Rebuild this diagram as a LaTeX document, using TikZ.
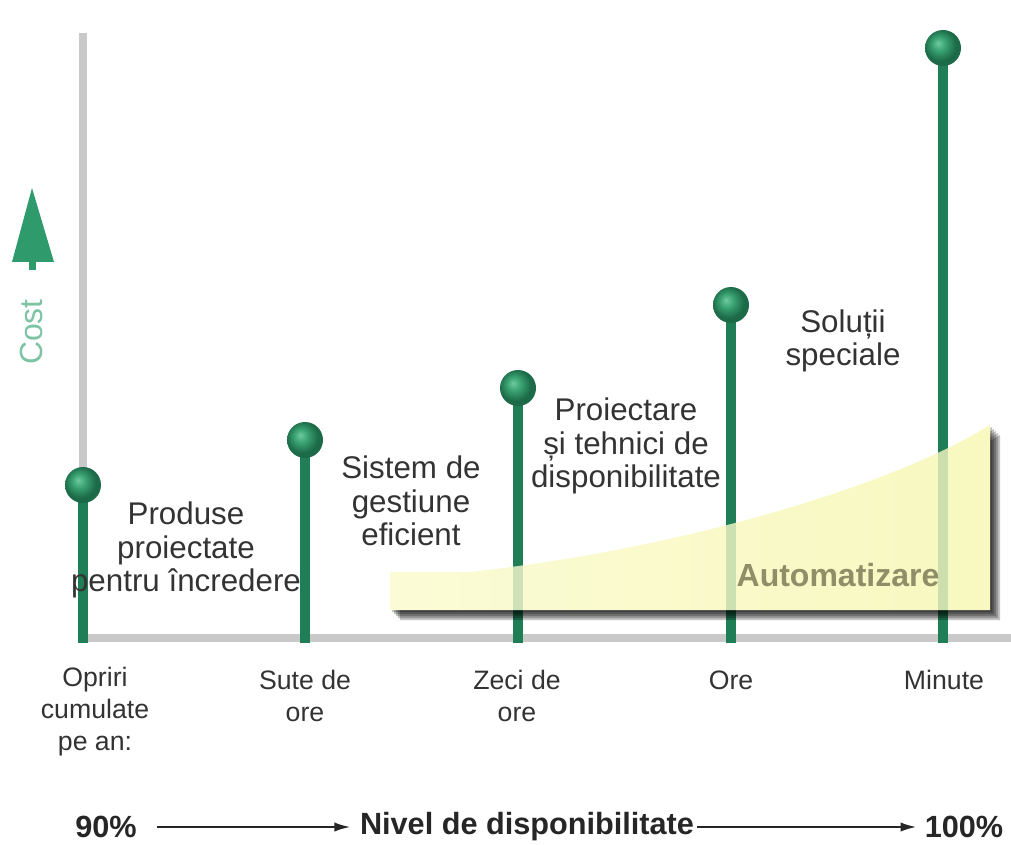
\documentclass[tikz,border=0pt]{standalone}
\usepackage{fontspec}
\setmainfont{Liberation Sans}
\usetikzlibrary{arrows.meta, positioning}

\definecolor{axisgray}{HTML}{C9C9C9}
\definecolor{stemgreen}{HTML}{207E56}
\definecolor{ballhi}{HTML}{6ECB9F}
\definecolor{ballmid}{HTML}{38A070}
\definecolor{balllo}{HTML}{1C6A47}
\definecolor{costgreen}{HTML}{7CC4A4}
\definecolor{arrowgreen}{HTML}{2F9A6B}
\definecolor{txtgray}{HTML}{333333}
\definecolor{autotxt}{HTML}{8E8E68}
\definecolor{yelL}{HTML}{FBFBD6}
\definecolor{yelR}{HTML}{F8F8C0}

\pgfdeclareradialshading{knob}{\pgfpoint{-7bp}{7bp}}{color(0bp)=(ballhi); color(10bp)=(ballmid); color(22bp)=(balllo); color(50bp)=(balllo)}
\pgfdeclarelayer{bg}
\pgfsetlayers{bg,main}

% area of the automation band
\def\autopath{(390,572) -- (470,572) .. controls (690,548) and (900,482) .. (990,425) -- (990,610) -- (390,610) -- cycle}

\begin{document}
\begin{tikzpicture}[
  x=0.75pt, y=-0.75pt,
  lbl/.style={align=center, text=txtgray, font=\fontsize{23.5}{25}\selectfont, inner sep=0pt},
  tick/.style={align=center, text=txtgray, font=\fontsize{20}{24}\selectfont, inner sep=0pt},
  stem/.style={line width=7.5pt, draw=stemgreen},
  ball/.style={circle, minimum size=27pt, inner sep=0pt, shading=knob},
  pct/.style={font=\bfseries\fontsize{23}{27}\selectfont, text=black!85, inner sep=0pt},
  arr/.style={-{Latex[length=12pt,width=7pt]}, line width=1.6pt, black!85}]
  \useasboundingbox (0,0) rectangle (1011,845);

  % knobs and their feet on the axis
  \foreach \n/\x/\y in {1/83/485, 2/305/440, 3/518/388, 4/731/305, 5/943/48} {
    \node[ball] (b\n) at (\x,\y) {};
    \coordinate (f\n) at (\x,643);
  }

  \begin{pgfonlayer}{bg}
    \draw[axisgray, line width=6.5pt] (83,33) -- (83,641);
    \draw[axisgray, line width=6pt] (80,638) -- (1011,638);
    \foreach \n in {1,...,5}
      \draw[stem] (f\n) -- (b\n.center);
    % shadow and band
    \foreach \d in {2,4,6,8,10}
      \fill[black, opacity=.24, xshift=\d*0.75pt, yshift=-\d*0.75pt] \autopath;
    \shade[left color=yelL, right color=yelR] \autopath;
    \begin{scope}
      \clip \autopath;
      \foreach \n in {1,...,5}
        \draw[stem, opacity=.2] (f\n) -- (b\n.center);
    \end{scope}
  \end{pgfonlayer}

  \node[font=\bfseries\fontsize{24}{28}\selectfont, text=autotxt] (auto) at (838,575) {Automatizare};

  % cost axis
  \fill[arrowgreen] (32,188) -- (54,262) -- (12,262) -- cycle;
  \fill[arrowgreen] (29,262) rectangle (36,270);
  \node[rotate=90, text=costgreen, font=\fontsize{24}{28}\selectfont] (cost) at (31,332) {Cost};

  % labels of the levels
  \node[lbl] (l1) at (186,550) {Produse\\proiectate\\pentru încredere};
  \node[lbl] (l2) at (411,501) {Sistem de\\gestiune\\eficient};
  \node[lbl] (l3) at (626,446) {Proiectare\\și tehnici de\\disponibilitate};
  \node[lbl] (l4) at (843,341) {Soluții\\speciale};

  % labels under the axis
  \node[tick] (t1) at (95,712) {Opriri\\cumulate\\pe an:};
  \node[tick] (t2) at (305,696) {Sute de\\ore};
  \node[tick] (t3) at (517,696) {Zeci de\\ore};
  \node[tick] (t4) at (731,680) {Ore};
  \node[tick] (t5) at (944,680) {Minute};

  % availability scale
  \node[pct] (p90) at (106,827) {90\%};
  \node[pct] (nivel) at (527,827) {Nivel de disponibilitate};
  \node[pct] (p100) at (964,827) {100\%};
  \draw[arr, shorten <=15pt, shorten >=7pt] (p90.east) -- (nivel.west);
  \draw[arr, shorten <=2pt, shorten >=6pt] (nivel.east) -- (p100.west);
\end{tikzpicture}
\end{document}
